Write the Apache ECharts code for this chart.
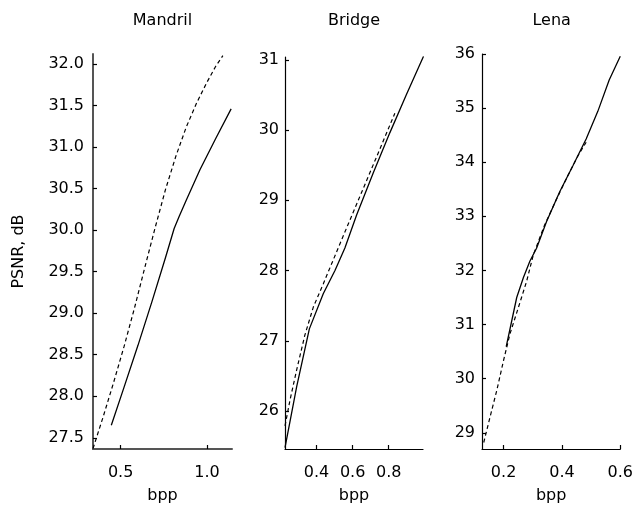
<!DOCTYPE html>
<html>
<head>
<meta charset="utf-8">
<script src="https://cdn.jsdelivr.net/npm/echarts@6/dist/echarts.min.js"></script>
<style>html,body{margin:0;padding:0;background:#fff;}#c{width:636px;height:509px;}</style>
</head>
<body>
<div id="c"></div>
<script>
// ---- data ----
const panelTitles = ['Mandril', 'Bridge', 'Lena'];
const xName = 'bpp';
const yName = 'PSNR, dB';

const mandrilSolidBpp  = [0.446, 0.520, 0.600, 0.680, 0.760, 0.810, 0.840, 0.880, 0.960, 1.050, 1.140];
const mandrilSolidPsnr = [27.65, 28.11, 28.61, 29.13, 29.67, 30.02, 30.17, 30.36, 30.73, 31.10, 31.46];
const mandrilDashBpp   = [0.340, 0.400, 0.460, 0.520, 0.580, 0.640, 0.700, 0.760, 0.820, 0.880, 0.940, 1.000, 1.050, 1.092];
const mandrilDashPsnr  = [27.37, 27.76, 28.17, 28.60, 29.06, 29.55, 30.03, 30.49, 30.89, 31.24, 31.53, 31.78, 31.97, 32.10];

const bridgeSolidBpp  = [0.225, 0.290, 0.360, 0.437, 0.502, 0.557, 0.622, 0.714, 0.806, 0.897, 0.993];
const bridgeSolidPsnr = [25.48, 26.35, 27.17, 27.67, 28.00, 28.32, 28.79, 29.39, 29.96, 30.50, 31.05];
const bridgeDashBpp   = [0.225, 0.253, 0.290, 0.335, 0.382, 0.437, 0.510, 0.567, 0.659, 0.751, 0.834];
const bridgeDashPsnr  = [25.79, 26.16, 26.59, 27.08, 27.48, 27.81, 28.26, 28.61, 29.17, 29.73, 30.24];

const lenaSolidBpp  = [0.209, 0.228, 0.245, 0.268, 0.290, 0.313, 0.347, 0.392, 0.438, 0.483, 0.523, 0.562, 0.600];
const lenaSolidPsnr = [30.59, 31.07, 31.50, 31.87, 32.17, 32.41, 32.90, 33.45, 33.94, 34.43, 34.94, 35.52, 35.96];
const lenaDashBpp   = [0.132, 0.154, 0.177, 0.200, 0.222, 0.251, 0.279, 0.302, 0.340, 0.380, 0.420, 0.455, 0.483];
const lenaDashPsnr  = [28.82, 29.30, 29.79, 30.34, 30.83, 31.32, 31.80, 32.29, 32.83, 33.30, 33.75, 34.12, 34.37];

const mandrilXTicks = [0.5, 1.0];
const mandrilYTicks = [27.5, 28.0, 28.5, 29.0, 29.5, 30.0, 30.5, 31.0, 31.5, 32.0];
const bridgeXTicks  = [0.4, 0.6, 0.8];
const bridgeYTicks  = [26, 27, 28, 29, 30, 31];
const lenaXTicks    = [0.2, 0.4, 0.6];
const lenaYTicks    = [29, 30, 31, 32, 33, 34, 35, 36];

// ---- build ----
const zip = (a, b) => a.map((v, i) => [v, b[i]]);
const FONT = 'DejaVu Sans';

const panels = [
  { grid: {left: 93, top: 54, width: 139, height: 399},
    x: [0.34, 1.145], y: [27.365, 32.12], xt: mandrilXTicks, yt: mandrilYTicks, yd: 1,
    solid: zip(mandrilSolidBpp, mandrilSolidPsnr), dash: zip(mandrilDashBpp, mandrilDashPsnr),
    axisColor: '#555', axisWidth: 2, lm: 9, showYName: true },
  { grid: {left: 285, top: 57, width: 138, height: 396},
    x: [0.225, 0.99], y: [25.46, 31.04], xt: bridgeXTicks, yt: bridgeYTicks, yd: 0,
    solid: zip(bridgeSolidBpp, bridgeSolidPsnr), dash: zip(bridgeDashBpp, bridgeDashPsnr),
    axisColor: '#000', axisWidth: 1.2, lm: 6, showYName: false },
  { grid: {left: 482, top: 54, width: 139.3, height: 399},
    x: [0.126, 0.6], y: [28.70, 36], xt: lenaXTicks, yt: lenaYTicks, yd: 0,
    solid: zip(lenaSolidBpp, lenaSolidPsnr), dash: zip(lenaDashBpp, lenaDashPsnr),
    axisColor: '#000', axisWidth: 1.2, lm: 7, showYName: false }
];

const grid = [], xAxis = [], yAxis = [], series = [], graphic = [];
panels.forEach((p, i) => {
  grid.push(Object.assign({containLabel: false}, p.grid));
  const tick = {show: true, inside: true, length: 4, lineStyle: {color: '#000', width: 1.2}};
  xAxis.push({
    type: 'value', gridIndex: i, min: p.x[0], max: p.x[1],
    axisLine: {show: true, onZero: false, lineStyle: {color: p.axisColor, width: p.axisWidth}},
    axisTick: Object.assign({}, tick, {customValues: p.xt}),
    axisLabel: {customValues: p.xt, formatter: v => v.toFixed(1), fontFamily: FONT, fontSize: 16, color: '#000', margin: 16},
    splitLine: {show: false},
    name: xName, nameLocation: 'middle', nameGap: 39,
    nameTextStyle: {fontFamily: FONT, fontSize: 16, color: '#000'}
  });
  yAxis.push({
    type: 'value', gridIndex: i, min: p.y[0], max: p.y[1],
    axisLine: {show: true, onZero: false, lineStyle: {color: p.axisColor, width: p.axisWidth}},
    axisTick: Object.assign({}, tick, {customValues: p.yt}),
    axisLabel: {customValues: p.yt, formatter: v => v.toFixed(p.yd), fontFamily: FONT, fontSize: 16, color: '#000', margin: p.lm},
    splitLine: {show: false},
    name: p.showYName ? yName : '', nameLocation: 'middle', nameGap: 66, nameRotate: 90,
    nameTextStyle: {fontFamily: FONT, fontSize: 16, color: '#000'}
  });
  series.push({
    type: 'line', xAxisIndex: i, yAxisIndex: i, data: p.solid, showSymbol: false, symbol: 'none',
    lineStyle: {color: '#000', width: 1.3, type: 'solid'}, silent: true, animation: false
  });
  series.push({
    type: 'line', xAxisIndex: i, yAxisIndex: i, data: p.dash, showSymbol: false, symbol: 'none',
    lineStyle: {color: '#000', width: 1.2, type: [4, 3]}, silent: true, animation: false
  });
  graphic.push({
    type: 'text', x: p.grid.left + p.grid.width / 2, y: 21,
    style: {text: panelTitles[i], align: 'center', verticalAlign: 'middle', fontFamily: FONT, fontSize: 16, fill: '#000'}
  });
});

const chart = echarts.init(document.getElementById('c'), null, {renderer: 'canvas'});
chart.setOption({animation: false, backgroundColor: '#fff', grid, xAxis, yAxis, series, graphic});
</script>
</body>
</html>
